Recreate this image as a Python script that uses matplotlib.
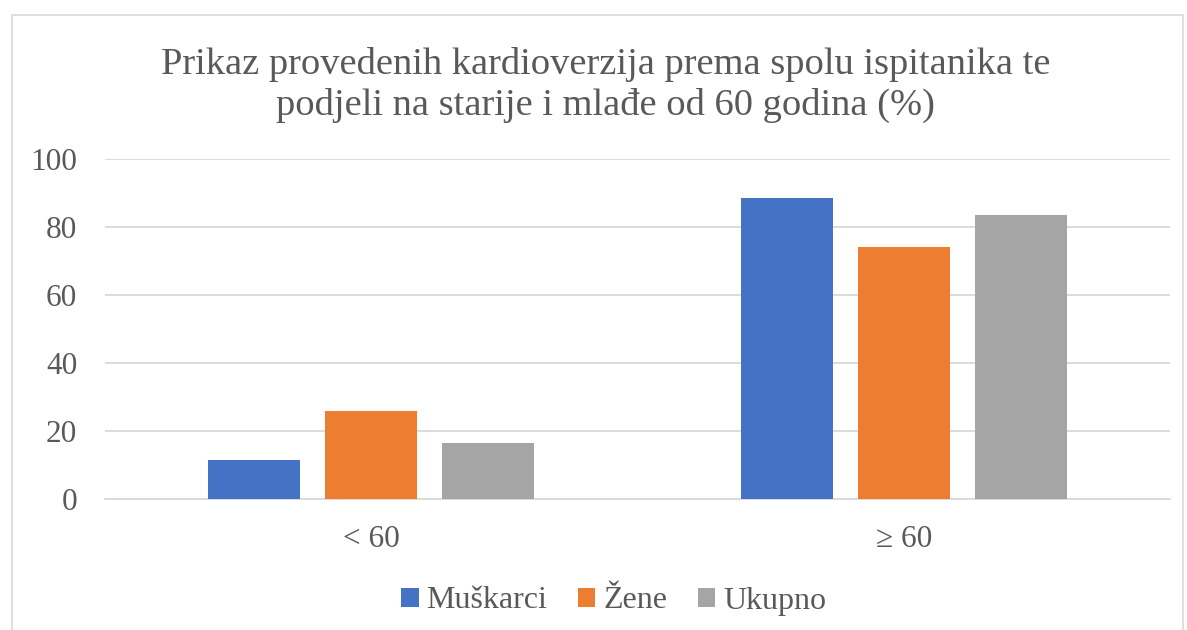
import matplotlib.pyplot as plt
import numpy as np
from matplotlib.patches import Rectangle

categories = ["< 60", "≥ 60"]
series_names = ["Muškarci", "Žene", "Ukupno"]
muskarci = [11.5, 88.5]
zene = [25.9, 74.1]
ukupno = [16.4, 83.5]
y_ticks = [0, 20, 40, 60, 80, 100]

colors = ["#4472C4", "#ED7D31", "#A5A5A5"]
text_color = "#595959"
grid_color = "#D9D9D9"

plt.rcParams["font.family"] = ["Liberation Serif", "DejaVu Serif"]

fig = plt.figure(figsize=(11.87, 6.30), dpi=100)
ax = fig.add_axes([105 / 1187, 1 - 499 / 630, (1170 - 105) / 1187, 340 / 630])

x = np.arange(len(categories))
width = 0.173
step = width + 0.047
for i, (name, values) in enumerate(zip(series_names, [muskarci, zene, ukupno])):
    ax.bar(x + (i - 1) * step, values, width, color=colors[i], label=name, zorder=3)

ax.set_xlim(-0.5, len(categories) - 0.5)
ax.set_ylim(0, 100)
ax.set_yticks(y_ticks)
ax.set_xticks(x)
ax.set_xticklabels(categories)
ax.grid(axis="y", color=grid_color, linewidth=1.3, zorder=0)
ax.tick_params(axis="both", length=0, labelsize=22.5, colors=text_color)
ax.tick_params(axis="y", pad=20)
ax.tick_params(axis="x", pad=19)
for side in ("top", "right", "left"):
    ax.spines[side].set_visible(False)
ax.spines["bottom"].set_color(grid_color)
ax.spines["bottom"].set_linewidth(1.3)

fig.text(0.51, 0.865,
         "Prikaz provedenih kardioverzija prema spolu ispitanika te\npodjeli na starije i mlađe od 60 godina (%)",
         ha="center", va="center", fontsize=27.7, color=text_color, linespacing=1.2)

fig.legend(loc="center", bbox_to_anchor=(0.517, 1 - 601 / 630), ncol=3, frameon=False,
           fontsize=23, labelcolor=text_color, handlelength=0.55, handleheight=0.55,
           handletextpad=0.25, columnspacing=0.95)

fig.patches.append(Rectangle((12 / 1187, -0.01), 1171 / 1187, 1 - 15 / 630 + 0.01,
                             transform=fig.transFigure, fill=False,
                             edgecolor=grid_color, linewidth=1.2))

fig.savefig("out.png", dpi=100)
